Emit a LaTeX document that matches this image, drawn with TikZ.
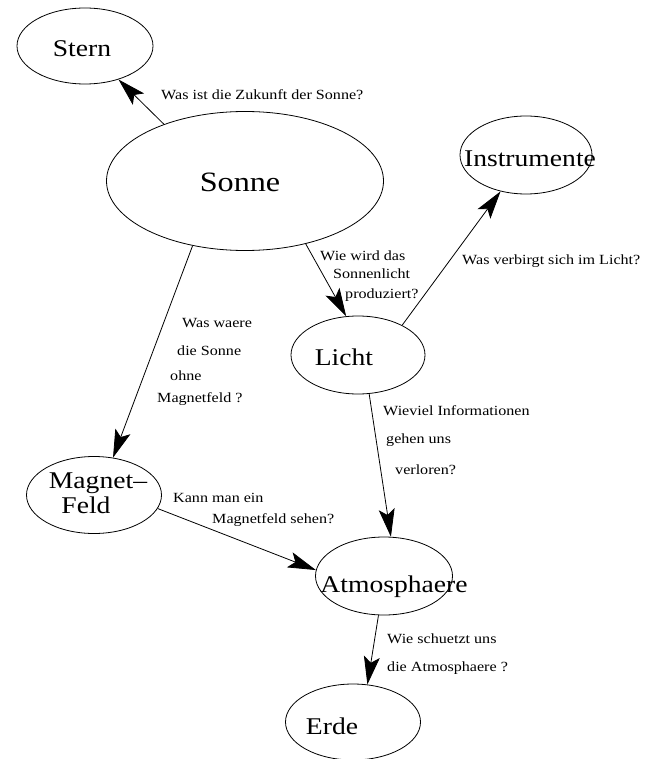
\documentclass[tikz,border=0pt]{standalone}
\usepackage{fontspec}
\setmainfont{Liberation Serif}[FakeStretch=1.15]
\usetikzlibrary{shapes.geometric,arrows.meta}

\tikzset{
  topic/.style={draw, ellipse, inner sep=0pt, line width=0.8pt},
  bigtext/.style={font=\fontsize{24}{24}\selectfont, inner sep=0pt, anchor=base},
  question/.style={font=\fontsize{14}{14}\selectfont, inner sep=0pt, anchor=base west},
  link/.style={line width=0.8pt, -{Stealth[length=28pt,width=16pt,inset=6pt]}}
}

\begin{document}
\begin{tikzpicture}[x=1pt,y=-1pt]
\useasboundingbox[fill=white] (0,0) rectangle (656,759);

% topics
\node[topic, minimum width=136pt, minimum height=76pt] (stern) at (85,46) {};
\node[topic, minimum width=277pt, minimum height=139pt] (sonne) at (245,181) {};
\node[topic, minimum width=132pt, minimum height=78pt] (instr) at (526,155) {};
\node[topic, minimum width=134pt, minimum height=78pt] (licht) at (358,355) {};
\node[topic, minimum width=135pt, minimum height=77pt] (magnet) at (94,495) {};
\node[topic, minimum width=137pt, minimum height=78pt] (atmos) at (384,576) {};
\node[topic, minimum width=135pt, minimum height=76pt] (erde) at (353,722) {};

% topic names
\node[bigtext] (stern-t) at (82,57) {Stern};
\node[bigtext, font=\fontsize{28}{28}\selectfont] (sonne-t) at (240,192) {Sonne};
\node[bigtext] (instr-t) at (530,167) {Instrumente};
\node[bigtext] (licht-t) at (344,365) {Licht};
\node[bigtext] (magnet-t1) at (98,488) {Magnet–};
\node[bigtext] (magnet-t2) at (86,513) {Feld};
\node[bigtext] (atmos-t) at (394,592) {Atmosphaere};
\node[bigtext] (erde-t) at (332,734) {Erde};

% links
\draw[link] (sonne.145) -- (stern.315);
\draw[link] (sonne.314) -- (licht.107.5);
\draw[link] (licht.34.8) -- (instr.235.9);
\draw[link] (sonne.231.4) -- (magnet.63.4);
\draw[link] (licht.286) -- (atmos.80);
\draw[link] (magnet.348) -- (atmos.175);
\draw[link] (atmos.262) -- (erde.69);

% questions
\node[question] (q1) at (161,100) {Was ist die Zukunft der Sonne?};
\node[question] (q2a) at (320,260) {Wie wird das};
\node[question] (q2b) at (333,278) {Sonnenlicht};
\node[question] (q2c) at (345,298) {produziert?};
\node[question] (q3) at (462,264) {Was verbirgt sich im Licht?};
\node[question] (q4a) at (182,327) {Was waere};
\node[question] (q4b) at (177,355) {die Sonne};
\node[question] (q4c) at (170,380) {ohne};
\node[question] (q4d) at (157,402) {Magnetfeld ?};
\node[question] (q5a) at (383,415) {Wieviel Informationen};
\node[question] (q5b) at (386,443) {gehen uns};
\node[question] (q5c) at (395,474) {verloren?};
\node[question] (q6a) at (173,502) {Kann man ein};
\node[question] (q6b) at (212,523) {Magnetfeld sehen?};
\node[question] (q7a) at (387,643) {Wie schuetzt uns};
\node[question] (q7b) at (387,671) {die Atmosphaere ?};
\end{tikzpicture}
\end{document}
